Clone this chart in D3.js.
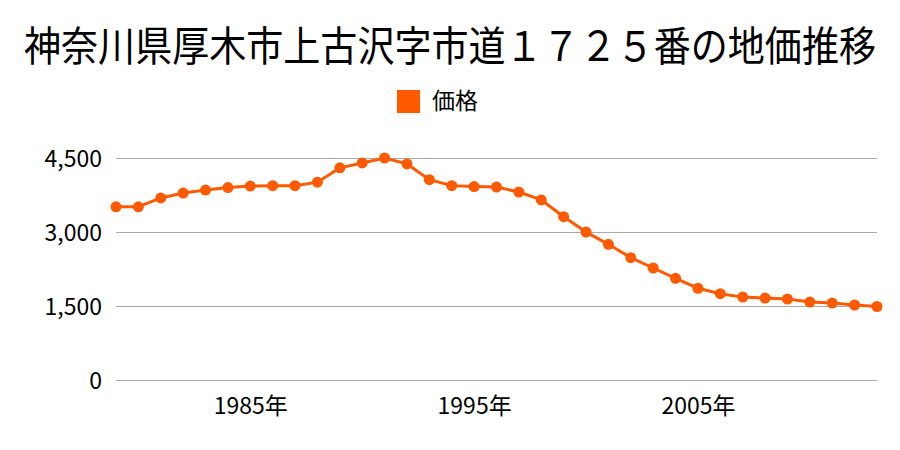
<!DOCTYPE html>
<html><head><meta charset="utf-8">
<script src="https://cdn.jsdelivr.net/npm/d3@7"></script>
<style>body{margin:0;background:#fff;} text{font-family:"Noto Sans CJK JP","Noto Sans",sans-serif;}</style>
</head><body>
<svg id="c" width="900" height="450"></svg>
<script>
const title = "神奈川県厚木市上古沢字市道１７２５番の地価推移";
const seriesName = "価格";
const years = [1979,1980,1981,1982,1983,1984,1985,1986,1987,1988,1989,1990,1991,1992,1993,1994,1995,1996,1997,1998,1999,2000,2001,2002,2003,2004,2005,2006,2007,2008,2009,2010,2011,2012,2013];
const values = [3510,3510,3690,3790,3850,3900,3930,3940,3940,4010,4300,4400,4500,4380,4060,3940,3920,3910,3810,3650,3310,3000,2750,2480,2270,2060,1860,1750,1680,1660,1640,1580,1560,1520,1490];
const yTicks = [0,1500,3000,4500];
const xTickYears = [1985,1995,2005];
const color = "#ff5a00";

const svg = d3.select("#c");
const x = d3.scaleLinear().domain([1979,2013]).range([116,877]);
const y = d3.scaleLinear().domain([0,4500]).range([380,158]);

svg.append("text").attr("transform","translate(450,61) scale(1,1.15)").attr("text-anchor","middle")
  .attr("font-size",36).attr("fill","#000")
  .attr("textLength",852).attr("lengthAdjust","spacingAndGlyphs").text(title);
svg.append("rect").attr("x",397).attr("y",90).attr("width",23).attr("height",23).attr("fill",color);
svg.append("text").attr("x",432).attr("y",109).attr("font-size",23).attr("fill","#000").text(seriesName);

const yAxis = d3.axisLeft(y).tickValues(yTicks).tickSize(-(877-116)).tickFormat(d3.format(","));
const gy = svg.append("g").attr("transform","translate(116,0)").call(yAxis);
gy.select(".domain").remove();
gy.selectAll(".tick line").attr("stroke","#aaa").attr("stroke-width",1);
gy.selectAll(".tick text").attr("x",-14).attr("dy","0.36em").attr("font-size",23).attr("fill","#000");

const xAxis = d3.axisBottom(x).tickValues(xTickYears).tickSize(0).tickFormat(d=>d+"年");
const gx = svg.append("g").attr("transform","translate(0,380)").call(xAxis);
gx.select(".domain").remove();
gx.selectAll(".tick text").attr("dy",0).attr("y",34).attr("font-size",23).attr("fill","#000");

const data = years.map((yr,i)=>({yr,v:values[i]}));
svg.append("path").datum(data).attr("fill","none").attr("stroke",color).attr("stroke-width",3)
  .attr("d",d3.line().x(d=>x(d.yr)).y(d=>y(d.v)));
svg.selectAll("circle.pt").data(data).enter().append("circle").attr("class","pt")
  .attr("cx",d=>x(d.yr)).attr("cy",d=>y(d.v)).attr("r",5.5).attr("fill",color);
</script>
</body></html>
